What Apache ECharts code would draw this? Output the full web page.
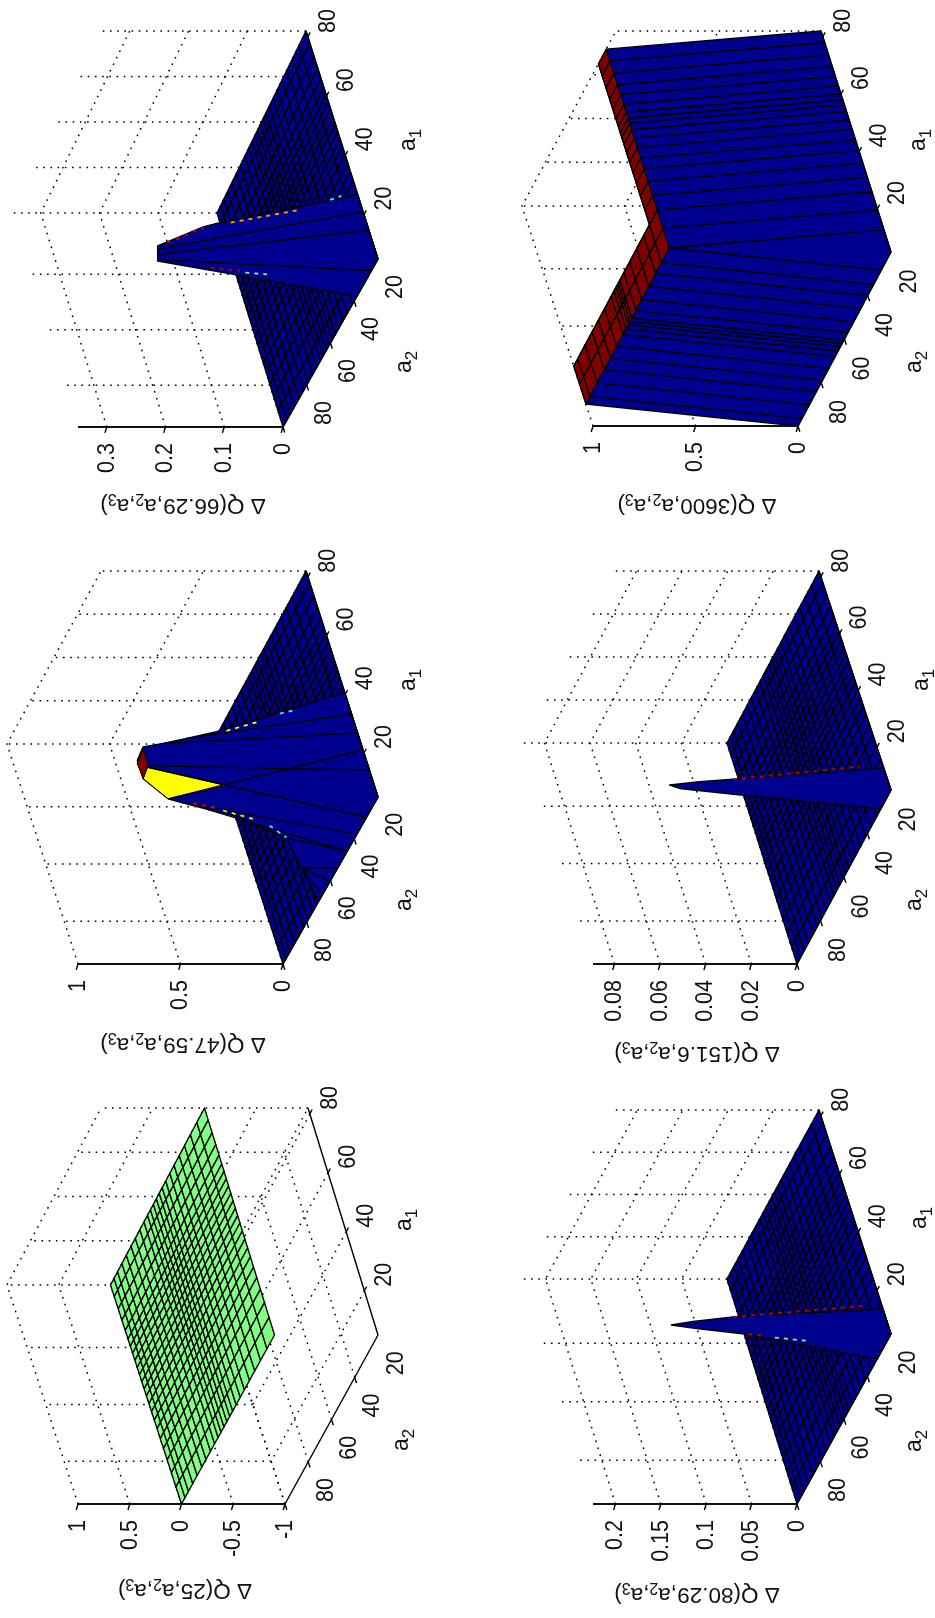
<!DOCTYPE html>
<html><head><meta charset="utf-8">
<style>html,body{margin:0;padding:0;background:#fff}#c{width:935px;height:1618px;filter:blur(.45px)}</style>
<script src="https://cdn.jsdelivr.net/npm/echarts@6/dist/echarts.min.js"></script>
</head><body><div id="c"></div>
<script>
// ---------- mesh grids ----------
const gridA1 = [5,12.7,19.6,25.9,31,35.9,40.3,44,47.7,51,53.9,56.2,58,60,62.8,66.1,69.6,73.6,77.9,82];
const gridA2 = [0,8.3,15,20,25.9,32,37,40.5,42,43.5,45.5,48,53.5,58.9,64.2,70.3,76.5,80];
const meshA1 = [5,11,16,20.5,24.5,28,31.5,34.5,37.5,40.3,43,45.5,48,50.5,53,55.5,58,60.5,63,66,69.6,73.6,77.9,82];
const meshA2 = [0,6.5,12,17,21.5,25.9,29.5,33,36,38.5,41,43.5,46,48.5,51.5,55,58.9,62.5,66.5,70.3,74,77,80];
const a1Ticks = [20,40,60,80];
const a2Ticks = [20,40,60,80];

// ---------- z tick labels ----------
const zTicks25  = [-1,-0.5,0,0.5,1];
const zTicks47  = [0,0.5,1];
const zTicks66  = [0,0.1,0.2,0.3];
const zTicks3600= [0,0.5,1];
const zTicks151 = [0,0.02,0.04,0.06,0.08];
const zTicks80  = [0,0.05,0.1,0.15,0.2];

// ---------- surface heights ----------
const flatLevel = 0;
const rowFlat  = [0,0,0,0,0,0,0,0,0,0,0,0,0,0,0,0,0,0];
const rowFull  = [0,1,1,1,1,1,1,1,1,1,1,1,1,1,1,1,1,1];
const rowStrip = [0,1,1,0,0,0,0,0,0,0,0,0,0,0,0,0,0,0];
const z3600 = [rowFlat,rowFull,rowFull,rowFull,rowStrip,rowStrip,rowStrip,rowStrip,rowStrip,rowStrip,rowStrip,rowStrip,rowStrip,rowStrip,rowStrip,rowStrip,rowStrip,rowStrip,rowStrip,rowStrip];

// ---------- peaks: [a1,a2,z] ----------
const peak47 = [[40.6,0,0],[38.1,15,.55],[35.8,15,.707],[34.1,15,.829],[32.9,15,.932],[28.3,15,.981],[22,15,.981],[15.1,15,.891],[14,15,.839],[11.6,15,.72],[9.3,15,.6],[9,25,.284],[9.3,40,.123],[5,50,0],[5,0,0]];
const lines47 = [
 [[33.2,0,0],[35.8,15,.707]],[[26.8,0,0],[34.1,15,.829]],[[21.1,0,0],[15.1,15,.891]],[[14.2,0,0],[26.4,15,.937]],
 [[5,9.7,0],[26,15,.947]],[[5,17.8,0],[14,15,.839]],[[5,26,0],[11.6,15,.72]],[[5,26,0],[9,25,.284]],
 [[5,34,0],[9.3,40,.123]],[[5,40.4,0],[9.3,40,.123]],[[5,46.8,0],[9.3,40,.123]]];
const patches47 = [
 {level:.625, pts:[[19.7,15,.585],[26,15,.947],[22,15,.981],[15.1,15,.891]]},
 {level:1, pts:[[32.3,15,.934],[26.4,15,.937],[22,15,.981],[27.2,15,.987]]}];
const dashes47 = [
 {level:.625, pts:[[38.4,15,.5],[38,10,.367]]},{level:.4, pts:[[39.2,8,.277],[39.1,6,.207]]},
 {level:.9, pts:[[13.6,15,.776],[11.9,15,.67]]},{level:.65, pts:[[11.1,15,.641],[8.2,15,.508]]},{level:.4, pts:[[5.9,15,.438],[9,25,.284]]}];

const peak66 = [[26.7,0,0],[27.7,15,.213],[26.8,15,.232],[20.2,15,.321],[15.1,15,.329],[10.5,15,.207],[5,17.7,0],[5,0,0]];
const lines66 = [[[21,0,0],[19.1,15,.323]],[[14.7,0,0],[17.4,15,.326]],[[5,5.6,0],[15.6,15,.328]]];
const dashes66 = [
 {level:.72, pts:[[28.2,15,.184],[27.3,8,.084]]},{level:.4, pts:[[28.6,5,.034],[28.5,3,.019]]},
 {level:.95, pts:[[21.4,15,.302],[26.5,15,.232]]},{level:.95, pts:[[12.8,15,.243],[11.7,15,.194]]},{level:.5, pts:[[11.1,15,.186],[10.5,15,.15]]}];

const peak151 = [[12.7,0,0],[14.1,7,.0619],[13.3,7,.0769],[12.1,7,.0905],[10.9,7,.0866],[8.5,7,.0598],[5,8.6,0],[5,0,0]];
const dashes151 = [{level:.95, pts:[[14.1,7,.0619],[14.05,1,.0093]]}];

const peak80 = [[13.6,0,0],[16,7,.1535],[14.4,7,.1994],[13.2,7,.2245],[12,7,.198],[10.1,7,.1467],[5,11.7,0],[5,0,0]];
const dashes80 = [
 {level:.95, pts:[[16,7,.1535],[15.5,1,.0145]]},{level:.95, pts:[[10.1,7,.143],[9.5,7,.125]]},{level:.5, pts:[[8.9,7,.1148],[7.7,7,.079]]}];

// ---------- panel layout ----------
const panels = [
 {sub:'Q(25,a', zTicks:zTicks25, zMin:-1, zMax:1, F:[378,1335],P1:[308,1108],P2:[285,1504],B:[214,1285], xTop:78,
  title:[185,1590], a1Lab:[405,1220], a2Lab:[402,1440]},
 {sub:'Q(47.59,a', zTicks:zTicks47, zMin:0, zMax:1, F:[378,797],P1:[306,571],P2:[283,964],B:[212,744], xTop:78,
  title:[183,1044], a1Lab:[409,680], a2Lab:[405,900], peak:peak47, lines:lines47, patches:patches47, dashes:dashes47},
 {sub:'Q(66.29,a', zTicks:zTicks66, zMin:0, zMax:.349, F:[378,259],P1:[306,31],P2:[283,427],B:[217,213], xTop:78,
  title:[183,505], a1Lab:[409,140], a2Lab:[405,362], peak:peak66, lines:lines66, dashes:dashes66},
 {sub:'Q(3600,a', zTicks:zTicks3600, z:z3600, zMin:0, zMax:1, F:[891,252],P1:[821,31],P2:[798,426],B:[727,206], xTop:593,
  title:[697,505], a1Lab:[919,140], a2Lab:[915,362]},
 {sub:'Q(151.6,a', zTicks:zTicks151, zMin:0, zMax:.0894, F:[891,790],P1:[819,571],P2:[797,964],B:[727,743], xTop:593,
  title:[697,1053], a1Lab:[922,680], a2Lab:[915,900], peak:peak151, dashes:dashes151},
 {sub:'Q(80.29,a', zTicks:zTicks80, zMin:0, zMax:.2247, F:[891,1334],P1:[819,1110],P2:[797,1504],B:[727,1279], xTop:593,
  title:[697,1594], a1Lab:[920,1218], a2Lab:[915,1441], peak:peak80, dashes:dashes80}
];

const FONT = '"Liberation Sans", Arial, sans-serif';
const clamp = v => Math.max(0, Math.min(1, v));
function jet(t){
  t = Math.max(.0156, Math.min(1, t));
  const c = v => Math.round(clamp(v) * 255);
  return `rgb(${c(Math.min(4*t-1.5,-4*t+4.5))},${c(Math.min(4*t-.5,-4*t+3.5))},${c(Math.min(4*t+.5,-4*t+2.5))})`;
}
function project(p, q){
  const u = (q[0]-5)/77, v = q[1]/80;
  const mix = k => p.F[k]*(1-u)*(1-v) + p.P1[k]*u*(1-v) + p.P2[k]*(1-u)*v + p.B[k]*u*v;
  const s = (p.P2[0]-p.xTop)/(p.zMax-p.zMin);
  return [mix(0) - (q[2]-p.zMin)*s, mix(1)];
}

function buildMarks(p){
  const m = [];
  const zb = p.zMin, zt = p.zMax, a1e = 82, a2e = 80, a1s = 5, a2s = 0;
  const DOT = {stroke:'#000', lineWidth:1.5, lineDash:[1.6,5.6], lineCap:'butt'};
  const dotted = pts => m.push({t:'line', pts, style:DOT});
  p.zTicks.forEach(z => dotted([[a1s,a2e,z],[a1e,a2e,z],[a1e,a2s,z]]));
  [0,20,40,60,80].forEach(a => dotted([[a1e,a,zb],[a1e,a,zt]]));
  [20,40,60].forEach(a => dotted([[a,a2e,zb],[a,a2e,zt]]));
  dotted([[a1s,a2e,zb],[a1s,a2e,zt]]);
  a1Ticks.forEach(a => dotted([[a,a2s,zb],[a,a2e,zb]]));
  a2Ticks.forEach(a => dotted([[a1s,a,zb],[a1e,a,zb]]));
  // surface, back to front
  const range = zt - zb;
  const G1 = p.z ? gridA1 : meshA1, G2 = p.z ? gridA2 : meshA2;
  const H = p.z ? (i,j) => p.z[i][j] : () => flatLevel;
  for(let i = G1.length-2; i >= 0; i--){
    for(let j = G2.length-2; j >= 0; j--){
      m.push({t:'poly', fill:jet((H(i,j)-zb)/range), lw:1.35, pts:[
        [G1[i],G2[j],H(i,j)],[G1[i+1],G2[j],H(i+1,j)],
        [G1[i+1],G2[j+1],H(i+1,j+1)],[G1[i],G2[j+1],H(i,j+1)]]});
    }
  }
  if(p.peak) m.push({t:'poly', fill:jet(0), lw:1.4, pts:p.peak});
  (p.patches||[]).forEach(s => m.push({t:'poly', fill:jet(s.level), lw:1, pts:s.pts}));
  (p.lines||[]).forEach(l => m.push({t:'line', pts:l, style:{stroke:'#000', lineWidth:1.35}}));
  (p.dashes||[]).forEach(s => m.push({t:'line', pts:s.pts, style:{stroke:jet(s.level), lineWidth:1.8, lineDash:[4,5]}}));
  const AX = {stroke:'#000', lineWidth:1.4};
  m.push({t:'line', pts:[[a1s,a2s,zb],[a1e,a2s,zb]], style:AX});
  m.push({t:'line', pts:[[a1s,a2s,zb],[a1s,a2e,zb]], style:AX});
  m.push({t:'line', pts:[[a1s,a2e,zb],[a1s,a2e,zt]], style:{stroke:'#111', lineWidth:1.8}});
  a1Ticks.forEach(a => {
    m.push({t:'line', pts:[[a,a2s,zb],[a,a2s-2,zb]], style:AX});
    m.push({t:'text', at:[a,a2s,zb], off:[20,-16], text:String(a)});
  });
  a2Ticks.forEach(a => {
    m.push({t:'line', pts:[[a1s,a,zb],[a1s-2,a,zb]], style:AX});
    m.push({t:'text', at:[a1s,a,zb], off:[41,-14], text:String(a)});
  });
  p.zTicks.forEach(z => {
    m.push({t:'line', pts:[[a1s,a2e,z],[a1s-.6,a2e+2,z]], style:AX});
    m.push({t:'text', at:[a1s,a2e,z], off:[0,16], align:'right', text:String(z)});
  });
  m.push({t:'abs', pos:p.title, rot:Math.PI, rich:richTitle, text:`{n|Δ ${p.sub}}{s|2}{n|,a}{s|3}{n|)}`});
  m.push({t:'abs', pos:p.a1Lab, rot:Math.PI/2, rich:richAxis, text:'{n|a}{s|1}'});
  m.push({t:'abs', pos:p.a2Lab, rot:Math.PI/2, rich:richAxis, text:'{n|a}{s|2}'});
  return m;
}

const richTitle = {
  n:{fontFamily:FONT, fontSize:22.5, lineHeight:30, fill:'#111', verticalAlign:'middle'},
  s:{fontFamily:FONT, fontSize:16, lineHeight:30, fill:'#111', verticalAlign:'bottom'}
};
const richAxis = {
  n:{fontFamily:FONT, fontSize:23, lineHeight:32, fill:'#111', verticalAlign:'middle'},
  s:{fontFamily:FONT, fontSize:17, lineHeight:32, fill:'#111', verticalAlign:'bottom'}
};

const series = panels.map(p => {
  const marks = buildMarks(p);
  return {
    type:'custom', coordinateSystem:'cartesian2d', clip:false, silent:true, animation:false,
    data:marks.map((_,i)=>[i,i]), encode:{x:0,y:1},
    renderItem(params, api){
      const mk = marks[params.dataIndex];
      const toScreen = q => api.coord(project(p,q));
      if(mk.t==='poly') return {type:'polygon', shape:{points:mk.pts.map(toScreen)},
        style:{fill:mk.fill, stroke:'#000', lineWidth:mk.lw, lineJoin:'round'}};
      if(mk.t==='line') return {type:'polyline', shape:{points:mk.pts.map(toScreen)},
        style:Object.assign({fill:null}, mk.style)};
      if(mk.t==='text'){
        const s = toScreen(mk.at);
        return {type:'text', x:s[0]+mk.off[0], y:s[1]+mk.off[1], rotation:Math.PI/2, scaleY:1.14,
          style:{text:mk.text, font:`21.5px ${FONT}`, fill:'#111', align:mk.align||'center', verticalAlign:'middle'}};
      }
      const s = api.coord(mk.pos);
      return {type:'text', x:s[0], y:s[1], rotation:mk.rot,
        style:{text:mk.text, rich:mk.rich, align:'center', verticalAlign:'middle'}};
    }
  };
});

const chart = echarts.init(document.getElementById('c'), null, {renderer:'canvas', width:935, height:1618});
chart.setOption({
  animation:false, backgroundColor:'#fff',
  grid:{left:0,right:0,top:0,bottom:0},
  xAxis:{type:'value',min:0,max:935,show:false},
  yAxis:{type:'value',min:0,max:1618,inverse:true,show:false},
  series
});
</script></body></html>
